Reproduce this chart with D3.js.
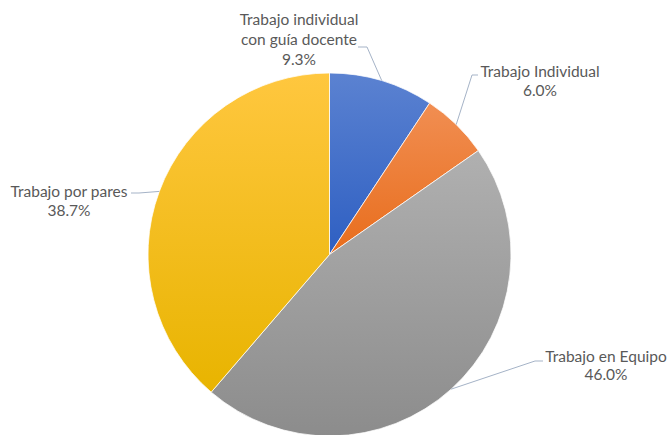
<!DOCTYPE html>
<html><head><meta charset="utf-8">
<script src="https://cdn.jsdelivr.net/npm/d3@7"></script>
<style>body{margin:0;background:#fff}svg{display:block}</style>
</head><body><svg id="c" width="669" height="435"></svg>
<script>
const categories = ["Trabajo individual con guía docente","Trabajo Individual","Trabajo en Equipo","Trabajo por pares"];
const values = [9.3, 6.0, 46.0, 38.7];
const labelLines = [["Trabajo individual","con guía docente"],["Trabajo Individual"],["Trabajo en Equipo"],["Trabajo por pares"]];
const colorsTop = ["#5B82D1","#F18E52","#B0B0B0","#FFC73F"];
const colorsBottom = ["#2E5FC2","#E86D1C","#8C8C8C","#E8B400"];

const svg = d3.select("#c");
const cx = 329.5, cy = 254.5, r = 181.5;
const defs = svg.append("defs");
colorsTop.forEach((c,i)=>{
  const g = defs.append("linearGradient").attr("id","g"+i).attr("x1",0).attr("y1",0).attr("x2",0).attr("y2",1);
  g.append("stop").attr("offset",0).attr("stop-color",c);
  g.append("stop").attr("offset",1).attr("stop-color",colorsBottom[i]);
});
const pie = d3.pie().sort(null).value(d=>d)(values);
const arc = d3.arc().innerRadius(0).outerRadius(r);
const g = svg.append("g").attr("transform",`translate(${cx},${cy})`);
g.selectAll("path").data(pie).join("path")
  .attr("d",arc).attr("fill",(d,i)=>`url(#g${i})`)
  .attr("stroke","#fff").attr("stroke-width",0.75);

const labelPos = [
  {x:299, ys:[25,45,65], anchor:"middle", line:[[358,47],[367,47]]},
  {x:540, ys:[77,96], anchor:"middle", line:[[478,75],[472,75]]},
  {x:606, ys:[362,380], anchor:"middle", line:[[543,361],[535,361]]},
  {x:69, ys:[197,216], anchor:"middle", line:[[131,193],[139,193]]}
];
const fmt = d3.format(".1f");
pie.forEach((d,i)=>{
  const p = labelPos[i];
  const a = (d.startAngle+d.endAngle)/2;
  const ex = cx + r*Math.sin(a), ey = cy - r*Math.cos(a);
  const pts = [...p.line, [ex,ey]];
  svg.append("path").attr("d", d3.line()(pts)).attr("fill","none")
    .attr("stroke","#A5B3C7").attr("stroke-width",1);
  const lines = [...labelLines[i], fmt(values[i])+"%"];
  const t = svg.append("text").attr("text-anchor",p.anchor)
    .attr("font-family","Lato, 'Open Sans', sans-serif").attr("font-size",15.5).attr("fill","#595959");
  lines.forEach((s,k)=>t.append("tspan").attr("x",p.x).attr("y",p.ys[k]).text(s));
});
</script></body></html>
